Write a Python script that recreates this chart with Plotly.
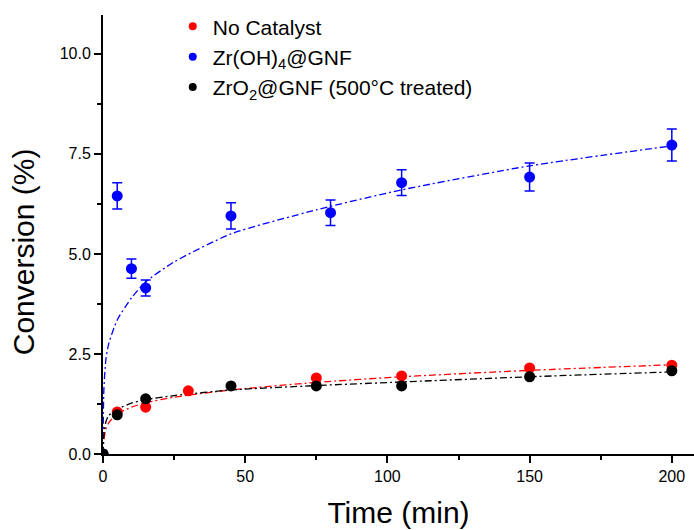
import plotly.graph_objects as go

time_nc = [0, 5, 15, 30, 75, 105, 150, 200]
conv_nc = [0, 1.05, 1.17, 1.58, 1.90, 1.95, 2.15, 2.22]

time_zh = [0, 5, 10, 15, 45, 80, 105, 150, 200]
conv_zh = [0, 6.45, 4.63, 4.15, 5.95, 6.03, 6.78, 6.92, 7.72]
err_zh = [0, 0.33, 0.24, 0.20, 0.33, 0.32, 0.32, 0.35, 0.40]

time_zo = [0, 5, 15, 45, 75, 105, 150, 200]
conv_zo = [0, 0.98, 1.38, 1.70, 1.70, 1.70, 1.93, 2.08]

# Fit curves
fit_t = [0, 0.3, 1, 2, 5, 10, 15, 25, 45, 75, 105, 150, 200]
fit_nc = [0, 0.35, 0.62, 0.78, 1.00, 1.17, 1.28, 1.42, 1.60, 1.79, 1.93, 2.09, 2.23]
fit_zh = [0, 1.6, 2.35, 2.75, 3.35, 3.90, 4.30, 4.80, 5.50, 6.10, 6.60, 7.20, 7.70]
fit_zo = [0, 0.45, 0.80, 0.96, 1.12, 1.27, 1.36, 1.46, 1.60, 1.71, 1.80, 1.93, 2.05]

series_names = ["No Catalyst", "Zr(OH)<sub>4</sub>@GNF", "ZrO<sub>2</sub>@GNF (500°C treated)"]
x_ticks = [0, 50, 100, 150, 200]
y_ticks = [0, 2.5, 5.0, 7.5, 10.0]

RED = "#ff0000"
BLUE = "#0000ff"
BLACK = "#000000"
DASH = "7px,3px,2px,3px"
FONT = "Liberation Sans, Arial, sans-serif"

fig = go.Figure()

for t, y, c in [(fit_t, fit_nc, RED), (fit_t, fit_zh, BLUE), (fit_t, fit_zo, BLACK)]:
    fig.add_trace(go.Scatter(x=t, y=y, mode="lines",
                             line=dict(color=c, width=1.3, dash=DASH, shape="spline", smoothing=0.6),
                             showlegend=False, hoverinfo="skip"))

fig.add_trace(go.Scatter(x=time_nc, y=conv_nc, mode="markers", name=series_names[0],
                         marker=dict(color=RED, size=11), showlegend=False))
fig.add_trace(go.Scatter(x=time_zh, y=conv_zh, mode="markers", name=series_names[1],
                         marker=dict(color=BLUE, size=11), showlegend=False,
                         error_y=dict(type="data", array=err_zh, color=BLUE, thickness=1.5, width=5)))
fig.add_trace(go.Scatter(x=time_zo, y=conv_zo, mode="markers", name=series_names[2],
                         marker=dict(color=BLACK, size=11), showlegend=False))

# legend entries (smaller symbols, as in the reference legend)
for name, c in zip(series_names, [RED, BLUE, BLACK]):
    fig.add_trace(go.Scatter(x=[None], y=[None], mode="markers", name=name,
                             marker=dict(color=c, size=8)))

axis_font = dict(family=FONT, size=16, color="black")
title_font = dict(family=FONT, size=30, color="black")

fig.update_layout(
    width=694, height=530,
    margin=dict(l=103, r=0, t=15, b=76),
    plot_bgcolor="white", paper_bgcolor="white",
    font=dict(family=FONT, color="black"),
    legend=dict(x=0.118, y=1.02, xanchor="left", yanchor="top", bgcolor="rgba(0,0,0,0)",
                font=dict(family=FONT, size=21, color="black"), tracegroupgap=0),
    xaxis=dict(range=[0, 207.8], tickvals=x_ticks, ticktext=[str(v) for v in x_ticks],
               showline=True, linecolor="black", linewidth=2, showgrid=False, zeroline=False,
               ticks="outside", ticklen=7, tickwidth=2, tickcolor="black", tickfont=axis_font,
               ticklabeloverflow="allow",
               minor=dict(ticks="outside", ticklen=4, tickwidth=2, tickcolor="black", dtick=25, tick0=0, showgrid=False),
               title=dict(text="Time (min)", font=title_font, standoff=18)),
    yaxis=dict(range=[0, 10.97], tickvals=y_ticks, ticktext=["%.1f" % v for v in y_ticks],
               showline=True, linecolor="black", linewidth=2, showgrid=False, zeroline=False,
               ticks="outside", ticklen=7, tickwidth=2, tickcolor="black", tickfont=axis_font,
               minor=dict(ticks="outside", ticklen=4, tickwidth=2, tickcolor="black", dtick=1.25, tick0=0, showgrid=False)),
    annotations=[dict(text="Conversion (%)", font=title_font, textangle=-90, showarrow=False,
                      xref="paper", yref="paper", x=-0.135, y=0.46, xanchor="center", yanchor="middle")],
)

fig.write_html("out.html", config={"displayModeBar": False},
               post_script="document.body.style.margin='0';document.body.style.overflow='hidden';")
